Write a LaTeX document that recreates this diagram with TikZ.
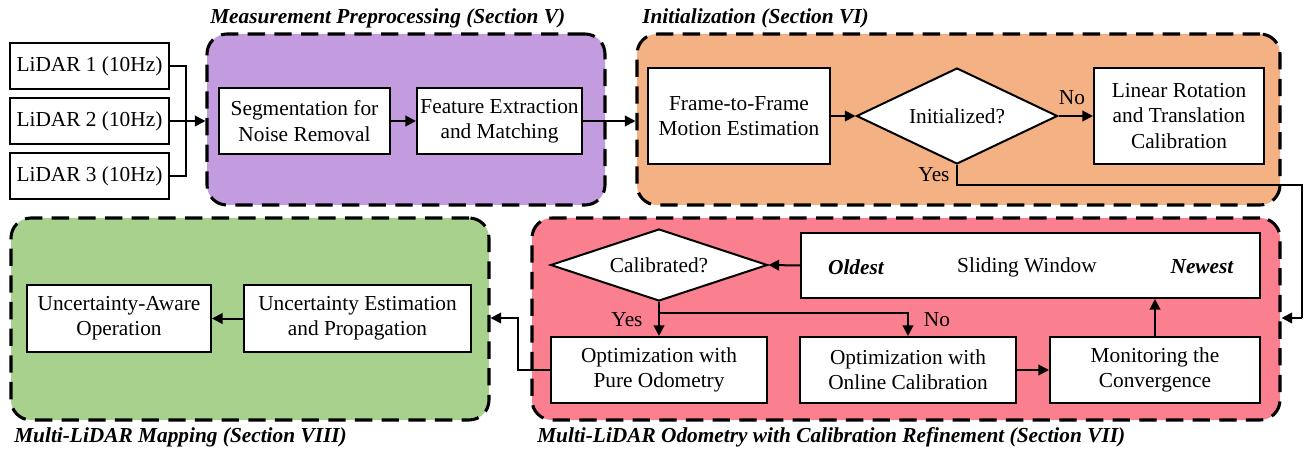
\documentclass[tikz,border=0pt]{standalone}
\usepackage{fontspec}
\setmainfont{Liberation Serif}
\usetikzlibrary{shapes.geometric,arrows.meta}
\definecolor{cpurple}{RGB}{195,155,223}
\definecolor{corange}{RGB}{244,177,131}
\definecolor{cpink}{RGB}{250,128,143}
\definecolor{cgreen}{RGB}{169,209,142}
\begin{document}
\begin{tikzpicture}[x=0.75pt,y=-0.75pt,
  every node/.style={font=\fontsize{16}{19}\selectfont},
  sz/.style 2 args={minimum width=#1*0.75pt, minimum height=#2*0.75pt},
  box/.style={draw, line width=1.5pt, fill=white, align=center, inner sep=0pt},
  dia/.style={draw, diamond, line width=1.5pt, fill=white, inner sep=0pt, align=center},
  grp/.style={draw, line width=2.3pt, dash pattern=on 13pt off 7pt, rounded corners=15pt, inner sep=0pt},
  ttl/.style={font=\fontsize{16}{19}\selectfont\bfseries\itshape, anchor=west, inner sep=0pt},
  bi/.style={font=\fontsize{16}{19}\selectfont\bfseries\itshape, inner sep=0pt},
  lnk/.style={line width=1.5pt},
  arr/.style={line width=1.5pt, -{Triangle[length=8pt,width=8pt]}},
  lbl/.style={inner sep=0pt}
]
\useasboundingbox (0,0) rectangle (1304,449);

% groups
\node[grp, fill=cpurple, sz={398}{171}] (gA) at (406,119.5) {};
\node[grp, fill=corange, sz={643}{171}] (gB) at (958.5,119.5) {};
\node[grp, fill=cgreen, sz={478}{202}] (gC) at (250,319) {};
\node[grp, fill=cpink, sz={748}{202}] (gD) at (906,319) {};

% titles
\node[ttl] (tA) at (210,18) {Measurement Preprocessing (Section V)};
\node[ttl] (tB) at (642,18) {Initialization (Section VI)};
\node[ttl] (tC) at (14,437) {Multi-LiDAR Mapping (Section VIII)};
\node[ttl] (tD) at (537,437) {Multi-LiDAR Odometry with Calibration Refinement (Section VII)};

% top row
\node[box, sz={159}{46}] (L1) at (89.5,66) {LiDAR 1 (10Hz)};
\node[box, sz={159}{46}] (L2) at (89.5,121) {LiDAR 2 (10Hz)};
\node[box, sz={159}{46}] (L3) at (89.5,176) {LiDAR 3 (10Hz)};
\node[box, sz={171}{66}] (Seg) at (304.5,121) {Segmentation for\\Noise Removal};
\node[box, sz={165}{66}] (Feat) at (499.5,121) {Feature Extraction\\and Matching};
\node[box, sz={182}{96}] (Frame) at (739,116) {Frame-to-Frame\\Motion Estimation};
\node[dia, sz={201}{96}, aspect=2.1] (Init) at (957,116) {Initialized?};
\node[box, sz={170}{96}] (Lin) at (1179,116) {Linear Rotation\\and Translation\\Calibration};

% bottom right
\node[dia, sz={217}{72}, aspect=3] (Calib) at (659,265) {Calibrated?};
\node[box, sz={459}{65}] (Slide) at (1030.5,265.5) {};
\node[bi] (Old) at (856,267) {Oldest};
\node[lbl] (SW) at (1027,267) {Sliding Window};
\node[bi] (New) at (1202,267) {Newest};
\node[box, sz={216}{66}] (Pure) at (659,370) {Optimization with\\Pure Odometry};
\node[box, sz={216}{66}] (Online) at (908,370) {Optimization with\\Online Calibration};
\node[box, sz={210}{66}] (Mon) at (1155,370) {Monitoring the\\Convergence};

% bottom left
\node[box, sz={184}{67}] (Aware) at (119,318.5) {Uncertainty-Aware\\Operation};
\node[box, sz={227}{67}] (Est) at (357.5,318.5) {Uncertainty Estimation\\and Propagation};

% coordinates
\coordinate (J) at (186,121);
\coordinate (R1) at (1302,185);
\coordinate (R2) at (1302,318);
\coordinate (B) at (659,313);
\coordinate (C) at (518,318);

% connectors
\draw[lnk] (L1.east) -| (J) |- (L3.east);
\draw[arr] (L2.east) -- (L2.east -| gA.west);
\draw[arr] (Seg) -- (Feat);
\draw[arr] (Feat.east) -- (Feat.east -| gB.west);
\draw[arr] (Frame) -- (Init);
\draw[arr] (Init) -- (Lin);
\draw[lnk] (Init.south) |- (R1) -- (R2);
\draw[arr] (R2) -- (R2 -| gD.east);
\draw[arr] (Slide.west) -- (Calib.east);
\draw[arr] (Calib.south) -- (Pure.north);
\draw[arr] (B) -| (Online.north);
\draw[arr] (Online) -- (Mon);
\draw[arr] (Mon.north) -- (Mon.north |- Slide.south);
\draw[arr] (Pure.west) -| (C) -- (C -| gC.east);
\draw[arr] (Est) -- (Aware);

% labels
\node[lbl] (no1) at (1072,98) {No};
\node[lbl] (yes1) at (934,175) {Yes};
\node[lbl] (yes2) at (627,320) {Yes};
\node[lbl] (no2) at (937,320) {No};
\end{tikzpicture}
\end{document}
